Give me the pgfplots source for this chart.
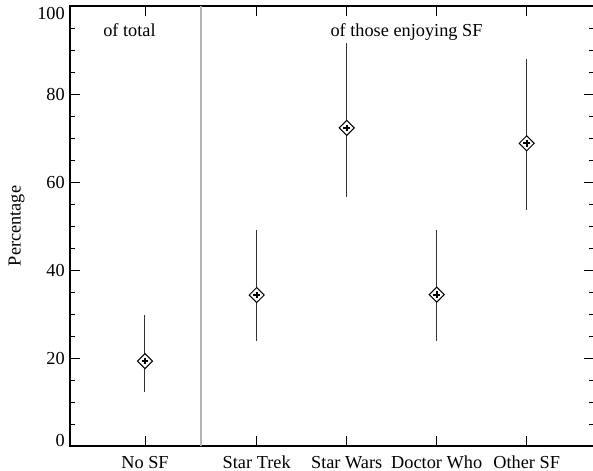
\documentclass[border=0pt]{standalone}
\usepackage{fontspec}
\setmainfont{Liberation Serif}
\usepackage{pgfplots}
\pgfplotsset{compat=1.18}
\usepackage{pgfplotstable}

% x = position, y = value, ep / em = upper / lower error
\pgfplotstableread{
x      y     ep    em
0.000  19.3  10.5  7.0
1.241  34.3  14.8  10.5
2.241  72.3  19.4  15.6
3.241  34.4  14.7  10.6
4.241  68.8  19.1  15.2
}\sfdata

\definecolor{sepgray}{RGB}{180,180,180}

\begin{document}
\begin{tikzpicture}
\fontsize{18.3bp}{22bp}\selectfont
\begin{axis}[
    at={(0,0)}, anchor=south west,
    scale only axis,
    width=524bp, height=440bp,
    xmin=-0.8333, xmax=4.9889,
    ymin=0, ymax=100,
    axis line style={line width=1.2bp},
    tick style={black, line width=0.9bp},
    tick align=inside,
    major tick length=10bp,
    minor tick length=5bp,
    xtick={0,1.241,2.241,3.241,4.241},
    xticklabels={No SF,Star Trek,Star Wars,Doctor Who,Other SF},
    xticklabel style={anchor=base, inner sep=0pt, yshift=-22.2bp,
        font=\fontsize{18.3bp}{22bp}\selectfont},
    ytick={0,20,40,60,80,100},
    yticklabels={\raisebox{6.2bp}{0},20,40,60,80,\raisebox{-6.9bp}{100}},
    yticklabel style={anchor=base east, inner sep=0pt, xshift=-5bp, yshift=-6.2bp,
        font=\fontsize{18.3bp}{22bp}\selectfont},
    minor y tick num=3,
    ylabel={Percentage},
    ylabel style={at={(axis description cs:-0.1021,0.5)}, anchor=center, inner sep=0pt,
        font=\fontsize{18.3bp}{22bp}\selectfont},
    clip=false,
]
\draw[sepgray, line width=1.6bp] (axis cs:0.622,0) -- (axis cs:0.622,100);

\addplot[only marks, mark=none,
    error bars/.cd, y dir=both, y explicit,
    error mark=none,
    error bar style={draw=black!80, line width=1bp}]
    table[x=x, y=y, y error plus=ep, y error minus=em] {\sfdata};
\addplot[only marks, mark=square*, mark size=5.3bp,
    mark options={rotate=45, fill=white, draw=black, line width=1bp}]
    table[x=x, y=y] {\sfdata};
\addplot[only marks, mark=+, mark size=3.3bp,
    mark options={draw=black, line width=1.8bp}]
    table[x=x, y=y] {\sfdata};

\node[anchor=base] at (axis cs:-0.172,93.0) {of total};
\node[anchor=base] at (axis cs:2.906,93.0) {of those enjoying SF};
\end{axis}
\pgfresetboundingbox
\path[use as bounding box] (-70bp,-25bp) rectangle (523bp,446bp);
\end{tikzpicture}
\end{document}
